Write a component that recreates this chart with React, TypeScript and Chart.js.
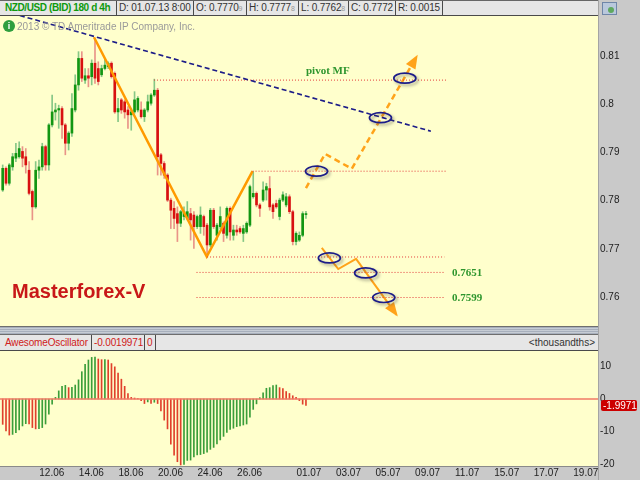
import React, { useEffect, useRef } from "react";
import { Chart, registerables } from "chart.js";

Chart.register(...registerables);

// ---------- DATA ----------
const OPEN = [
  0.7822, 0.7867, 0.7836, 0.7870, 0.7888, 0.7891, 0.7902, 0.7891, 0.7863, 0.7819,
  0.7787, 0.7863, 0.7870, 0.7912, 0.7874, 0.7957, 0.7984, 0.7988, 0.7991, 0.7957,
  0.7919, 0.7940, 0.7988, 0.8040, 0.8095, 0.8050, 0.8059, 0.8057, 0.8085, 0.8074,
  0.8061, 0.8074, 0.8078, 0.8085, 0.8064, 0.7984, 0.8009, 0.8005, 0.7988, 0.7978,
  0.7984, 0.7988, 0.7988, 0.7974, 0.7988, 0.8002, 0.8019, 0.8029, 0.7895, 0.7877,
  0.7853, 0.7801, 0.7784, 0.7773, 0.7753, 0.7767, 0.7763, 0.7773, 0.7770, 0.7746,
  0.7746, 0.7767, 0.7749, 0.7708, 0.7780, 0.7728, 0.7746, 0.7753, 0.7728, 0.7784,
  0.7728, 0.7739, 0.7742, 0.7732, 0.7735, 0.7749, 0.7808, 0.7815, 0.7791, 0.7801,
  0.7822, 0.7825, 0.7791, 0.7794, 0.7767, 0.7801, 0.7791, 0.7808, 0.7777, 0.7715,
  0.7718, 0.7728, 0.7771,
];
const HIGH = [
  0.7874, 0.7870, 0.7877, 0.7898, 0.7919, 0.7922, 0.7912, 0.7908, 0.7881, 0.7822,
  0.7881, 0.7884, 0.7919, 0.7915, 0.7960, 0.8019, 0.8002, 0.7998, 0.7995, 0.7960,
  0.7943, 0.8022, 0.8061, 0.8109, 0.8109, 0.8074, 0.8074, 0.8092, 0.8133, 0.8088,
  0.8081, 0.8095, 0.8088, 0.8088, 0.8067, 0.8012, 0.8012, 0.8009, 0.7995, 0.7991,
  0.8026, 0.8016, 0.8005, 0.7991, 0.8019, 0.8022, 0.8052, 0.8033, 0.7898, 0.7881,
  0.7856, 0.7805, 0.7798, 0.7787, 0.7780, 0.7787, 0.7798, 0.7784, 0.7777, 0.7770,
  0.7787, 0.7770, 0.7753, 0.7784, 0.7784, 0.7753, 0.7787, 0.7756, 0.7787, 0.7787,
  0.7749, 0.7749, 0.7746, 0.7749, 0.7756, 0.7832, 0.7860, 0.7818, 0.7794, 0.7839,
  0.7836, 0.7850, 0.7794, 0.7801, 0.7805, 0.7818, 0.7815, 0.7812, 0.7780, 0.7735,
  0.7735, 0.7777, 0.7778,
];
const LOW = [
  0.7819, 0.7832, 0.7832, 0.7863, 0.7881, 0.7888, 0.7870, 0.7857, 0.7812, 0.7760,
  0.7784, 0.7846, 0.7863, 0.7863, 0.7863, 0.7953, 0.7967, 0.7950, 0.7929, 0.7895,
  0.7905, 0.7933, 0.7984, 0.8029, 0.8047, 0.8043, 0.8036, 0.8040, 0.8043, 0.8040,
  0.8057, 0.8071, 0.8074, 0.8054, 0.7981, 0.7964, 0.7981, 0.7971, 0.7950, 0.7946,
  0.7981, 0.7984, 0.7971, 0.7964, 0.7984, 0.7998, 0.8016, 0.7853, 0.7853, 0.7846,
  0.7798, 0.7742, 0.7742, 0.7715, 0.7746, 0.7760, 0.7760, 0.7718, 0.7701, 0.7742,
  0.7732, 0.7728, 0.7684, 0.7704, 0.7742, 0.7718, 0.7742, 0.7715, 0.7722, 0.7718,
  0.7718, 0.7728, 0.7732, 0.7715, 0.7732, 0.7746, 0.7805, 0.7787, 0.7767, 0.7798,
  0.7801, 0.7780, 0.7763, 0.7784, 0.7760, 0.7798, 0.7787, 0.7773, 0.7708, 0.7708,
  0.7715, 0.7725, 0.7763,
];
const CLOSE = [
  0.7867, 0.7836, 0.7874, 0.7891, 0.7898, 0.7908, 0.7888, 0.7874, 0.7815, 0.7787,
  0.7863, 0.7870, 0.7912, 0.7874, 0.7957, 0.7984, 0.7988, 0.7991, 0.7957, 0.7919,
  0.7940, 0.7991, 0.8040, 0.8095, 0.8054, 0.8059, 0.8054, 0.8085, 0.8054, 0.8047,
  0.8074, 0.8081, 0.8085, 0.8057, 0.7984, 0.7991, 0.7988, 0.7984, 0.7978, 0.7984,
  0.8009, 0.8012, 0.7974, 0.7988, 0.8005, 0.8019, 0.8029, 0.7891, 0.7877, 0.7853,
  0.7801, 0.7780, 0.7763, 0.7753, 0.7777, 0.7777, 0.7777, 0.7760, 0.7746, 0.7767,
  0.7770, 0.7746, 0.7708, 0.7780, 0.7746, 0.7749, 0.7767, 0.7732, 0.7784, 0.7735,
  0.7739, 0.7735, 0.7735, 0.7742, 0.7753, 0.7829, 0.7815, 0.7791, 0.7784, 0.7822,
  0.7829, 0.7787, 0.7777, 0.7787, 0.7801, 0.7812, 0.7808, 0.7777, 0.7715, 0.7732,
  0.7728, 0.7773, 0.7772,
];

// Awesome Oscillator (thousandths)
const AO = [
  -7.8, -9.8, -11.1, -10.9, -10.4, -9.5, -8.3, -7.6, -7.7, -8.8,
  -9.2, -9.1, -8.8, -7.7, -4.7, -1.6, 0.5, 2.5, 3.9, 4.2,
  3.5, 3.6, 4.3, 5.9, 8.4, 10.7, 12.0, 12.8, 12.9, 12.3,
  12.1, 12.1, 12.0, 10.9, 9.9, 8.0, 6.1, 3.9, 1.7, 0.5,
  0.3, 0.1, -0.5, -1.4, -0.9, -1.4, -1.0, -1.4, -3.7, -6.5,
  -9.2, -13.9, -17.3, -19.3, -20.3, -20.1, -18.9, -18.8, -17.8, -17.2,
  -17.1, -16.8, -16.4, -15.5, -14.9, -13.8, -12.6, -11.5, -10.3, -9.4,
  -9.0, -8.5, -8.3, -8.0, -7.7, -5.6, -3.2, -1.5, 0.4, 1.9,
  3.3, 3.5, 4.1, 4.3, 3.5, 3.2, 2.3, 1.7, 1.0, 0.5,
  -0.5, -1.6, -1.9971,
];

const DAY_LABELS = ["12.06", "14.06", "18.06", "20.06", "24.06", "26.06", "01.07", "03.07", "05.07", "09.07", "11.07", "15.07", "17.07", "19.07"];
const DAY_OFFSETS = [0, 2, 4, 6, 8, 10, 13, 15, 17, 19, 21, 23, 25, 27];
const PRICE_TICKS = [0.76, 0.77, 0.78, 0.79, 0.8, 0.81];
const AO_TICKS = [-20, -10, 0, 10];

// drawing annotations, in (bar index, price)
const TREND_LINE = [{ x: 5.2, y: 0.8184 }, { x: 129.9, y: 0.7944 }];
const V_PATTERN = [{ x: 27.7, y: 0.8139 }, { x: 61.9, y: 0.7684 }, { x: 75.8, y: 0.7861 }];
const UP_PATH = [{ x: 92.0, y: 0.7826 }, { x: 97.8, y: 0.7897 }, { x: 105.9, y: 0.7866 }, { x: 125.6, y: 0.8099 }];
const DOWN_PATH = [{ x: 96.8, y: 0.7702 }, { x: 101.8, y: 0.7658 }, { x: 107.2, y: 0.7679 }, { x: 119.5, y: 0.7563 }];
const PIVOT_LEVELS = [0.805, 0.7861, 0.7683, 0.7651, 0.7599];
const PIVOT_FROM = [45.9, 75.8, 62.0, 58.8, 58.8];
const PIVOT_TO = [134.7, 134.7, 134.0, 134.0, 134.0];
const MARK_X = [122.0, 114.6, 95.2, 99.1, 110.1, 115.6];
const MARK_Y = [0.8054, 0.7972, 0.7861, 0.7681, 0.7650, 0.7599];

const QUOTE_FIELDS = [
  { w: 77, main: "D: 01.07.13 8:00", sub: "" },
  { w: 53, main: "O: 0.7770", sub: "9" },
  { w: 52, main: "H: 0.7777", sub: "8" },
  { w: 50, main: "L: 0.7762", sub: "8" },
  { w: 47, main: "C: 0.7772", sub: "" },
  { w: 47, main: "R: 0.0015", sub: "" },
];

// ---------- LAYOUT CONSTANTS ----------
const X_MIN = -0.82;
const X_MAX = 180.6;
const DAY_CENTER0 = 14.9;
const BARS_PER_DAY = 6;
const PRICE_MIN = 0.753984;
const PRICE_MAX = 0.818299;
const AO_MIN = -20.62;
const AO_MAX = 14.77;

const SANS = '"Liberation Sans", Arial, Helvetica, sans-serif';
const SERIF = '"Liberation Serif", "Times New Roman", serif';
const GREEN = "#129612";
const RED = "#D81010";
const GREEN_W = "#86C786";
const RED_W = "#E99488";
const ORANGE = "#FF9A00";
const NAVY = "#1C1C88";

const bgPlugin = {
  id: "bgFill",
  beforeDraw(chart: any) {
    const { ctx, chartArea: a } = chart;
    ctx.save();
    ctx.fillStyle = "#FFFFCC";
    ctx.fillRect(a.left, a.top, a.right - a.left, a.bottom - a.top);
    ctx.restore();
  },
};

const arrowPlugin = {
  id: "arrowHeads",
  afterDatasetsDraw(chart: any) {
    const ctx = chart.ctx;
    chart.data.datasets.forEach((ds: any, i: number) => {
      if (!ds.arrowHead) return;
      const pts = chart.getDatasetMeta(i).data;
      const n = pts.length;
      const p1 = pts[n - 2];
      const p2 = pts[n - 1];
      const ang = Math.atan2(p2.y - p1.y, p2.x - p1.x);
      const L = 12, W = 5.5;
      const c = Math.cos(ang), s = Math.sin(ang);
      ctx.save();
      ctx.fillStyle = ds.borderColor;
      ctx.beginPath();
      ctx.moveTo(p2.x + 2 * c, p2.y + 2 * s);
      ctx.lineTo(p2.x - L * c + W * s, p2.y - L * s - W * c);
      ctx.lineTo(p2.x - L * c - W * s, p2.y - L * s + W * c);
      ctx.closePath();
      ctx.fill();
      ctx.restore();
    });
  },
};

const notesPlugin = {
  id: "notes",
  afterDatasetsDraw(chart: any) {
    const { ctx, chartArea } = chart;
    const xs = chart.scales.x;
    const ys = chart.scales.y;
    ctx.save();
    MARK_X.forEach((mx, k) => {
      const px = xs.getPixelForValue(mx);
      const py = ys.getPixelForValue(MARK_Y[k]);
      ctx.save();
      ctx.shadowColor = "rgba(60,60,60,0.45)";
      ctx.shadowBlur = 3;
      ctx.shadowOffsetX = 2;
      ctx.shadowOffsetY = 2;
      ctx.strokeStyle = NAVY;
      ctx.lineWidth = 1.7;
      ctx.beginPath();
      ctx.ellipse(px, py, 11, 5, 0, 0, Math.PI * 2);
      ctx.stroke();
      ctx.restore();
    });
    ctx.fillStyle = "#2E962E";
    ctx.font = `bold 11px ${SERIF}`;
    ctx.textAlign = "left";
    ctx.textBaseline = "alphabetic";
    ctx.fillText("pivot MF", xs.getPixelForValue(92.0), ys.getPixelForValue(0.80627));
    ctx.textBaseline = "middle";
    [3, 4].forEach((k) => {
      ctx.fillText(PIVOT_LEVELS[k].toFixed(4), xs.getPixelForValue(136.3), ys.getPixelForValue(PIVOT_LEVELS[k]) + 0.5);
    });
    ctx.fillStyle = "#C81818";
    ctx.font = `bold 20px ${SANS}`;
    ctx.textBaseline = "alphabetic";
    ctx.fillText("Masterforex-V", chartArea.left + 12, chartArea.top + 282);
    ctx.restore();
  },
};

const aoTagPlugin = {
  id: "aoTag",
  afterDraw(chart: any) {
    const { ctx, chartArea } = chart;
    const v = AO[AO.length - 1];
    const y = chart.scales.y.getPixelForValue(v);
    const x = chartArea.right + 3;
    const w = 36, h = 11;
    ctx.save();
    ctx.fillStyle = "#CC0000";
    ctx.beginPath();
    (ctx as any).roundRect(x, y - h / 2, w, h, 2);
    ctx.fill();
    ctx.fillStyle = "#FFFFFF";
    ctx.font = `10px ${SANS}`;
    ctx.textBaseline = "middle";
    ctx.textAlign = "left";
    ctx.fillText(v.toFixed(4), x + 2, y + 0.5);
    ctx.restore();
  },
};

function priceConfig(): any {
  const idx = OPEN.map((_, i) => i);
  const up = (i: number) => CLOSE[i] >= OPEN[i];
  const pivotSets = PIVOT_LEVELS.map((lv, k) => ({
    type: "line",
    data: [{ x: PIVOT_FROM[k], y: lv }, { x: PIVOT_TO[k], y: lv }],
    borderColor: "#E23A3A",
    borderWidth: 1,
    borderDash: [1, 2],
    pointRadius: 0,
    order: 0,
  }));
  return {
    type: "bar",
    data: {
      datasets: [
        { type: "line", data: TREND_LINE, borderColor: NAVY, borderWidth: 1.6, borderDash: [5, 3], pointRadius: 0, order: 0 },
        ...pivotSets,
        { type: "line", data: V_PATTERN, borderColor: ORANGE, borderWidth: 2.5, pointRadius: 0, order: 0 },
        { type: "line", data: UP_PATH, borderColor: "#FFA31A", borderWidth: 2.5, borderDash: [6, 4], pointRadius: 0, order: 0, arrowHead: true },
        { type: "line", data: DOWN_PATH, borderColor: "#FFA31A", borderWidth: 2, pointRadius: 0, order: 0, arrowHead: true },
        {
          type: "bar",
          data: idx.map((i) => ({ x: i, y: [OPEN[i], CLOSE[i]] })),
          backgroundColor: (c: any) => (up(c.dataIndex) ? GREEN : RED),
          barThickness: 2,
          minBarLength: 1,
          grouped: false,
          order: 1,
        },
        {
          type: "bar",
          data: idx.map((i) => ({ x: i, y: [LOW[i], HIGH[i]] })),
          backgroundColor: (c: any) => (up(c.dataIndex) ? GREEN_W : RED_W),
          barThickness: 1,
          grouped: false,
          order: 2,
        },
      ],
    },
    options: {
      animation: false,
      responsive: false,
      events: [],
      layout: { padding: 0, autoPadding: false },
      plugins: { legend: { display: false }, tooltip: { enabled: false } },
      scales: {
        x: { type: "linear", min: X_MIN, max: X_MAX, display: false, offset: false },
        y: {
          type: "linear",
          position: "right",
          min: PRICE_MIN,
          max: PRICE_MAX,
          grid: { display: false, drawTicks: false },
          border: { display: false },
          ticks: {
            padding: 2,
            color: "#222",
            font: { family: SANS, size: 10 },
            callback: (v: number) => String(Number(v.toFixed(2))),
          },
          afterBuildTicks: (s: any) => { s.ticks = PRICE_TICKS.map((v) => ({ value: v })); },
          afterFit: (s: any) => { s.width = 42; s.paddingTop = 0; s.paddingBottom = 0; },
        },
      },
    },
    plugins: [bgPlugin, arrowPlugin, notesPlugin],
  };
}

function aoConfig(): any {
  return {
    type: "bar",
    data: {
      datasets: [
        { type: "line", data: [{ x: X_MIN, y: 0 }, { x: X_MAX, y: 0 }], borderColor: "#F07A66", borderWidth: 1.5, pointRadius: 0, order: 0 },
        {
          type: "bar",
          data: AO.map((v, i) => ({ x: i, y: v })),
          backgroundColor: (c: any) => {
            const i = c.dataIndex;
            return i > 0 && AO[i] >= AO[i - 1] ? "#3A9E3A" : "#E0402C";
          },
          barThickness: 1,
          order: 1,
        },
      ],
    },
    options: {
      animation: false,
      responsive: false,
      events: [],
      layout: { padding: 0, autoPadding: false },
      plugins: { legend: { display: false }, tooltip: { enabled: false } },
      scales: {
        x: {
          type: "linear",
          min: X_MIN,
          max: X_MAX,
          offset: false,
          position: "bottom",
          grid: { display: false, drawTicks: false },
          border: { display: false },
          ticks: {
            padding: 1,
            autoSkip: false,
            maxRotation: 0,
            minRotation: 0,
            color: "#222",
            font: { family: SANS, size: 10 },
            callback: (_v: number, i: number) => DAY_LABELS[i],
          },
          afterBuildTicks: (s: any) => {
            s.ticks = DAY_OFFSETS.map((d) => ({ value: DAY_CENTER0 + BARS_PER_DAY * d }));
          },
          afterFit: (s: any) => { s.height = 14; s.paddingLeft = 0; s.paddingRight = 0; },
        },
        y: {
          type: "linear",
          position: "right",
          min: AO_MIN,
          max: AO_MAX,
          grid: { display: false, drawTicks: false },
          border: { display: false },
          ticks: {
            padding: 2,
            color: "#222",
            font: { family: SANS, size: 10 },
            callback: (v: number) => String(v),
          },
          afterBuildTicks: (s: any) => { s.ticks = AO_TICKS.map((v) => ({ value: v })); },
          afterFit: (s: any) => { s.width = 42; s.paddingTop = 0; s.paddingBottom = 0; },
        },
      },
    },
    plugins: [bgPlugin, aoTagPlugin],
  };
}

const boxStyle = (w: number, extra: any = {}) => ({
  width: w,
  flex: "none",
  height: "100%",
  boxSizing: "border-box" as const,
  borderRight: "1px solid #4A4A4A",
  paddingLeft: 2,
  letterSpacing: "-0.15px",
  whiteSpace: "nowrap" as const,
  overflow: "hidden",
  ...extra,
});

export default function App() {
  const priceRef = useRef<HTMLCanvasElement>(null);
  const aoRef = useRef<HTMLCanvasElement>(null);

  useEffect(() => {
    const pc = new Chart(priceRef.current as HTMLCanvasElement, priceConfig());
    const ac = new Chart(aoRef.current as HTMLCanvasElement, aoConfig());
    return () => {
      pc.destroy();
      ac.destroy();
    };
  }, []);

  return (
    <div
      style={{
        position: "fixed",
        left: 0,
        top: 0,
        width: 640,
        height: 480,
        overflow: "hidden",
        background: "#C9C9C9",
        fontFamily: SANS,
        fontSize: 10,
        color: "#333",
      }}
    >
      {/* top header */}
      <div
        style={{
          position: "absolute", left: 0, top: 0, width: 599, height: 16, boxSizing: "border-box",
          background: "#E6E6E6", borderTop: "1px solid #666", borderBottom: "1px solid #4A4A4A",
          display: "flex", lineHeight: "14px",
        }}
      >
        <div style={boxStyle(117, { paddingLeft: 5, color: "#0E9A0E", fontWeight: "bold", letterSpacing: "-0.4px" })}>
          NZD/USD (BID) 180 d 4h
        </div>
        {QUOTE_FIELDS.map((f, k) => (
          <div key={k} style={boxStyle(f.w)}>
            {f.main}
            {f.sub && <span style={{ fontSize: 7, color: "#999" }}>{f.sub}</span>}
          </div>
        ))}
      </div>
      {/* top-right icon */}
      <div style={{ position: "absolute", left: 602, top: 2, width: 13, height: 11, background: "#B9C8DC", border: "1px solid #6F86A8" }}>
        <div style={{ position: "absolute", left: 5, top: 4, width: 6, height: 6, borderRadius: 3, background: "#5FA85F" }} />
      </div>

      {/* price panel */}
      <canvas ref={priceRef} width={640} height={310} style={{ position: "absolute", left: 0, top: 16, display: "block" }} />

      {/* copyright */}
      <div style={{ position: "absolute", left: 3, top: 20, width: 12, height: 12, borderRadius: 6, background: "#2E9E3E", color: "#fff", fontWeight: "bold", fontSize: 9, lineHeight: "12px", textAlign: "center" }}>
        i
      </div>
      <div style={{ position: "absolute", left: 17, top: 21, lineHeight: "12px", color: "#9A9A9A", whiteSpace: "nowrap" }}>
        2013 © TD Ameritrade IP Company, Inc.
      </div>

      {/* splitter */}
      <div
        style={{
          position: "absolute", left: 0, top: 326, width: 599, height: 9, boxSizing: "border-box",
          borderTop: "1px solid #6E6E6E", borderBottom: "1px solid #6E6E6E",
          background: "repeating-linear-gradient(180deg, #A7AFBC 0px, #A7AFBC 1px, #C6CCD4 1px, #C6CCD4 2px)",
        }}
      />

      {/* oscillator header */}
      <div
        style={{
          position: "absolute", left: 0, top: 335, width: 599, height: 16, boxSizing: "border-box",
          background: "#E6E6E6", borderBottom: "1px solid #4A4A4A", display: "flex", lineHeight: "15px",
        }}
      >
        <div style={boxStyle(92, { paddingLeft: 5, color: "#D02020" })}>AwesomeOscillator</div>
        <div style={boxStyle(53, { color: "#D02020" })}>-0.0019971</div>
        <div style={boxStyle(11, { color: "#D02020" })}>0</div>
        <div style={{ flex: 1, textAlign: "right", paddingRight: 4, color: "#333" }}>&lt;thousandths&gt;</div>
      </div>

      {/* oscillator panel */}
      <canvas ref={aoRef} width={640} height={129} style={{ position: "absolute", left: 0, top: 351, display: "block" }} />
      <div style={{ position: "absolute", left: 0, top: 466, width: 599, height: 1, background: "#8A8A8A" }} />

      {/* right panel border */}
      <div style={{ position: "absolute", left: 598, top: 0, width: 1, height: 480, background: "#A4A4A4" }} />
    </div>
  );
}
